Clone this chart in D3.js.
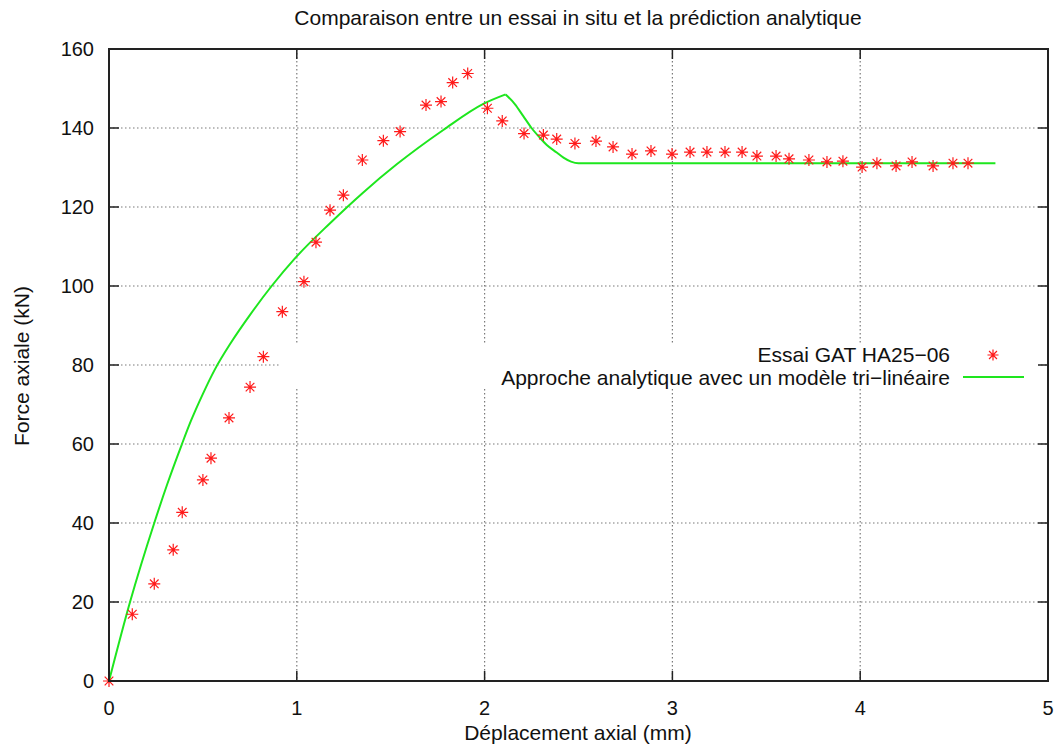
<!DOCTYPE html>
<html>
<head>
<meta charset="utf-8">
<script src="https://cdn.jsdelivr.net/npm/d3@7"></script>
<style>
  html, body { margin: 0; padding: 0; background: #fff; }
  svg { display: block; }
  text { font-family: "Liberation Sans", Arial, sans-serif; fill: #111; }
</style>
</head>
<body>
<svg id="chart" width="1059" height="749"></svg>
<script>
// ---- data ----
const titleText = "Comparaison entre un essai in situ et la prédiction analytique";
const xLabel = "Déplacement axial (mm)";
const yLabel = "Force axiale (kN)";
const seriesNames = ["Essai GAT HA25\u221206", "Approche analytique avec un modèle tri\u2212linéaire"];

const xTicks = [0, 1, 2, 3, 4, 5];
const yTicks = [0, 20, 40, 60, 80, 100, 120, 140, 160];

const testX = [0,0.124,0.241,0.342,0.390,0.500,0.543,0.639,0.751,0.822,
               0.923,1.038,1.102,1.177,1.248,1.349,1.461,1.550,1.688,1.768,
               1.830,1.910,2.015,2.094,2.210,2.313,2.384,2.481,2.593,2.684,
               2.785,2.886,2.998,3.094,3.184,3.280,3.371,3.450,3.552,3.621,
               3.727,3.823,3.908,4.010,4.089,4.191,4.276,4.388,4.494,4.574];
const testY = [0,16.9,24.6,33.2,42.7,50.9,56.4,66.6,74.4,82.1,
               93.5,101.1,111.1,119.2,123.0,131.9,136.8,139.1,145.8,146.7,
               151.5,153.8,145.0,141.8,138.6,138.2,137.2,136.1,136.7,135.2,
               133.4,134.2,133.4,133.9,133.9,133.9,133.9,132.9,132.9,132.2,
               131.9,131.4,131.6,130.1,131.1,130.4,131.4,130.4,131.1,131.1];

// analytic model: rising branch (up to the peak) and softening branch (from the peak)
const modelRiseX = [0,0.112,0.241,0.31,0.387,0.435,0.50,0.564,0.65,0.751,
                    0.866,0.99,1.177,1.354,1.532,1.78,1.993,2.112];
const modelRiseY = [0,20,40,49.8,59.8,65.7,72.7,78.9,85.7,92.7,
                    100,107,115.9,123.7,130.8,139.5,146.1,148.5];
const modelFallX = [2.112,2.162,2.206,2.25,2.295,2.331,2.384,2.42,2.46,2.50,4.72];
const modelFallY = [148.5,146,143,140,137.5,135.7,133.8,132.5,131.5,131.1,131.1];

// ---- layout ----
const L = 109, R = 1048, T = 49, B = 681;
const svg = d3.select("#chart");
const x = d3.scaleLinear().domain([0, 5]).range([L, R]);
const y = d3.scaleLinear().domain([0, 160]).range([B, T]);
const FS = 21, FT = 20;

// grid
const grid = svg.append("g").attr("stroke", "#7a7a7a").attr("stroke-width", 1.2)
  .attr("stroke-dasharray", "1.5,2.5");
grid.selectAll("line.v").data(xTicks.slice(1, -1)).join("line")
  .attr("x1", d => x(d)).attr("x2", d => x(d)).attr("y1", T).attr("y2", B);
grid.selectAll("line.h").data(yTicks.slice(1, -1)).join("line")
  .attr("x1", L).attr("x2", R).attr("y1", d => y(d)).attr("y2", d => y(d));

// legend background (opaque key)
svg.append("rect").attr("x", 280).attr("y", 343).attr("width", 760).attr("height", 44).attr("fill", "#fff");

// model line
const line = d3.line().x(d => x(d[0])).y(d => y(d[1])).curve(d3.curveMonotoneX);
[d3.zip(modelRiseX, modelRiseY), d3.zip(modelFallX, modelFallY)].forEach(seg => {
  svg.append("path").datum(seg)
    .attr("d", line).attr("fill", "none").attr("stroke", "#1ee61e")
    .attr("stroke-width", 2).attr("stroke-linejoin", "round");
});

// star marker
function drawStar(g, cx, cy, r) {
  const k = r * 0.72;
  const p = `M${cx - r},${cy}L${cx + r},${cy}M${cx},${cy - r}L${cx},${cy + r}` +
            `M${cx - k},${cy - k}L${cx + k},${cy + k}` +
            `M${cx - k},${cy + k}L${cx + k},${cy - k}`;
  g.append("path").attr("d", p);
}
const pts = svg.append("g").attr("stroke", "#ff1a1a").attr("stroke-width", 1.2).attr("fill", "none");
d3.zip(testX, testY).forEach(d => drawStar(pts, x(d[0]), y(d[1]), 6));

// legend
svg.append("text").attr("x", 950).attr("y", 362).attr("text-anchor", "end")
  .attr("font-size", FS).text(seriesNames[0]);
svg.append("text").attr("x", 950).attr("y", 385).attr("text-anchor", "end")
  .attr("font-size", FS).text(seriesNames[1]);
const lg = svg.append("g").attr("stroke", "#ff1a1a").attr("stroke-width", 1.2).attr("fill", "none");
drawStar(lg, 993, 355, 5.5);
svg.append("line").attr("x1", 963).attr("x2", 1024).attr("y1", 377).attr("y2", 377)
  .attr("stroke", "#1ee61e").attr("stroke-width", 2);

// border
svg.append("rect").attr("x", L).attr("y", T).attr("width", R - L).attr("height", B - T)
  .attr("fill", "none").attr("stroke", "#222").attr("stroke-width", 2);

// ticks (inward, on all four sides)
const tk = svg.append("g").attr("stroke", "#222").attr("stroke-width", 1.5);
const TL = 10;
xTicks.slice(1, -1).forEach(v => {
  tk.append("line").attr("x1", x(v)).attr("x2", x(v)).attr("y1", B).attr("y2", B - TL);
  tk.append("line").attr("x1", x(v)).attr("x2", x(v)).attr("y1", T).attr("y2", T + TL);
});
yTicks.slice(1, -1).forEach(v => {
  tk.append("line").attr("x1", L).attr("x2", L + TL).attr("y1", y(v)).attr("y2", y(v));
  tk.append("line").attr("x1", R).attr("x2", R - TL).attr("y1", y(v)).attr("y2", y(v));
});

// tick labels
svg.append("g").selectAll("text").data(xTicks).join("text")
  .attr("x", d => x(d)).attr("y", 715).attr("text-anchor", "middle")
  .attr("font-size", FT).text(d => d);
svg.append("g").selectAll("text").data(yTicks).join("text")
  .attr("x", 94).attr("y", d => y(d)).attr("dy", "0.36em").attr("text-anchor", "end")
  .attr("font-size", FT).text(d => d);

// titles
svg.append("text").attr("x", 578).attr("y", 25).attr("text-anchor", "middle")
  .attr("font-size", FS).text(titleText);
svg.append("text").attr("x", 578).attr("y", 740).attr("text-anchor", "middle")
  .attr("font-size", FS).text(xLabel);
svg.append("text").attr("transform", "translate(29,366) rotate(-90)")
  .attr("text-anchor", "middle").attr("font-size", FS).text(yLabel);
</script>
</body>
</html>
